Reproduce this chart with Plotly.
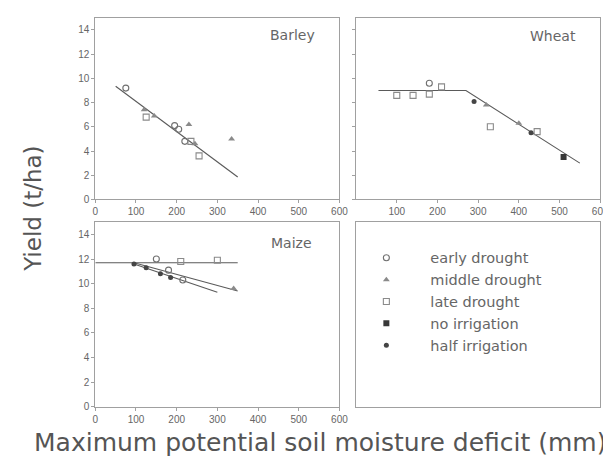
import plotly.graph_objects as go

# ---------------- data ----------------
treatments = ["early drought", "middle drought", "late drought", "no irrigation", "half irrigation"]

# Barley
barley_early_x = [75, 195, 205, 220]
barley_early_y = [9.2, 6.1, 5.8, 4.8]
barley_middle_x = [120, 145, 230, 245, 335]
barley_middle_y = [7.4, 6.9, 6.2, 4.6, 5.0]
barley_late_x = [125, 235, 255]
barley_late_y = [6.8, 4.8, 3.6]
barley_fit_x = [50, 350]
barley_fit_y = [9.35, 1.85]

# Wheat
wheat_early_x = [180]
wheat_early_y = [9.6]
wheat_middle_x = [320, 400]
wheat_middle_y = [7.8, 6.3]
wheat_late_x = [100, 140, 180, 210, 330, 445]
wheat_late_y = [8.6, 8.6, 8.7, 9.3, 6.0, 5.6]
wheat_none_x = [510]
wheat_none_y = [3.5]
wheat_half_x = [290, 430]
wheat_half_y = [8.1, 5.5]
wheat_fit_x = [55, 270, 550]
wheat_fit_y = [9.0, 9.0, 3.0]

# Maize
maize_early_x = [150, 180, 215]
maize_early_y = [12.0, 11.1, 10.3]
maize_middle_x = [340]
maize_middle_y = [9.6]
maize_late_x = [210, 300]
maize_late_y = [11.8, 11.9]
maize_half_x = [95, 125, 160, 185]
maize_half_y = [11.6, 11.3, 10.8, 10.5]
maize_flat_x = [0, 350]
maize_flat_y = [11.7, 11.7]
maize_fit1_x = [95, 350]
maize_fit1_y = [11.7, 9.4]
maize_fit2_x = [95, 300]
maize_fit2_y = [11.6, 9.3]

x_ticks = [0, 100, 200, 300, 400, 500, 600]
y_ticks = [0, 2, 4, 6, 8, 10, 12, 14]

# ---------------- style ----------------
W, H = 611, 457
MC = "#707070"
LC = "#5a5a5a"
AX = "#a0a0a0"
TXT = "#666666"
FONT = "Liberation Sans, Arial, sans-serif"
WFONT = "DejaVu Sans, sans-serif"

sym = {
    "early drought": dict(symbol="circle-open", size=6, color=MC, line=dict(width=1.1, color=MC)),
    "middle drought": dict(symbol="triangle-up", size=6, color="#8a8a8a"),
    "late drought": dict(symbol="square-open", size=6, color="#8a8a8a", line=dict(width=1.1, color="#8a8a8a")),
    "no irrigation": dict(symbol="square", size=6, color="#383838"),
    "half irrigation": dict(symbol="circle", size=5, color="#454545"),
}

fig = go.Figure()
shown = set()


def pts(x, y, tr, xa, ya):
    show = tr not in shown
    shown.add(tr)
    fig.add_trace(go.Scatter(
        x=x, y=y, mode="markers", name=tr, legendgroup=tr, showlegend=show,
        legendrank=treatments.index(tr) + 1,
        marker=sym[tr], xaxis=xa, yaxis=ya))


def line(x, y, xa, ya):
    fig.add_trace(go.Scatter(x=x, y=y, mode="lines", showlegend=False,
                             line=dict(color=LC, width=1.1), xaxis=xa, yaxis=ya,
                             hoverinfo="skip"))

# Barley (x, y)
line(barley_fit_x, barley_fit_y, "x", "y")
pts(barley_early_x, barley_early_y, "early drought", "x", "y")
pts(barley_middle_x, barley_middle_y, "middle drought", "x", "y")
pts(barley_late_x, barley_late_y, "late drought", "x", "y")

# Wheat (x2, y2)
line(wheat_fit_x, wheat_fit_y, "x2", "y2")
pts(wheat_early_x, wheat_early_y, "early drought", "x2", "y2")
pts(wheat_middle_x, wheat_middle_y, "middle drought", "x2", "y2")
pts(wheat_late_x, wheat_late_y, "late drought", "x2", "y2")
pts(wheat_none_x, wheat_none_y, "no irrigation", "x2", "y2")
pts(wheat_half_x, wheat_half_y, "half irrigation", "x2", "y2")

# Maize (x3, y3)
line(maize_flat_x, maize_flat_y, "x3", "y3")
line(maize_fit1_x, maize_fit1_y, "x3", "y3")
line(maize_fit2_x, maize_fit2_y, "x3", "y3")
pts(maize_early_x, maize_early_y, "early drought", "x3", "y3")
pts(maize_middle_x, maize_middle_y, "middle drought", "x3", "y3")
pts(maize_late_x, maize_late_y, "late drought", "x3", "y3")
pts(maize_half_x, maize_half_y, "half irrigation", "x3", "y3")

# empty 4th panel (legend box)
fig.add_trace(go.Scatter(x=[None], y=[None], mode="markers", showlegend=False,
                         xaxis="x4", yaxis="y4", hoverinfo="skip"))


def px(v):
    return v / W


def py(v):
    return 1 - v / H


left_dom = [px(86), px(335)]
right_dom = [px(352), px(601)]
top_dom = [py(194), py(10)]
bot_dom = [py(404), py(217)]

common = dict(showline=True, mirror=True, linecolor=AX, linewidth=1,
              showgrid=False, zeroline=False, ticks="outside", ticklen=3,
              tickcolor=AX, tickfont=dict(size=10, color=TXT, family=FONT))
plain = {k: v for k, v in common.items() if k != "ticks"}

fig.update_layout(
    width=W, height=H,
    margin=dict(l=0, r=0, t=0, b=0),
    paper_bgcolor="white", plot_bgcolor="white",
    font=dict(family=FONT, color=TXT),
    xaxis=dict(domain=left_dom, range=[0, 600], tickvals=x_ticks, anchor="y", **common),
    yaxis=dict(domain=top_dom, range=[0, 15], tickvals=y_ticks, anchor="x", **common),
    xaxis2=dict(domain=right_dom, range=[0, 600], tickvals=x_ticks[1:], anchor="y2", **common),
    yaxis2=dict(domain=top_dom, range=[0, 15], tickvals=y_ticks, showticklabels=False, anchor="x2", **common),
    xaxis3=dict(domain=left_dom, range=[0, 600], tickvals=x_ticks, anchor="y3", **common),
    yaxis3=dict(domain=bot_dom, range=[0, 15], tickvals=y_ticks, anchor="x3", **common),
    xaxis4=dict(domain=right_dom, range=[0, 1], showticklabels=False, anchor="y4", ticks="", **plain),
    yaxis4=dict(domain=bot_dom, range=[0, 1], showticklabels=False, anchor="x4", ticks="", **plain),
    legend=dict(x=px(338), y=py(237), xanchor="left", yanchor="top",
                bgcolor="rgba(0,0,0,0)", font=dict(size=14.5, color=TXT, family=WFONT),
                itemwidth=78, tracegroupgap=0),
    showlegend=True,
)

annos = [
    dict(text="Barley", x=px(312), y=py(27), xanchor="right"),
    dict(text="Wheat", x=px(578), y=py(28), xanchor="right"),
    dict(text="Maize", x=px(309), y=py(238), xanchor="right"),
]
for a in annos:
    fig.add_annotation(xref="paper", yref="paper", yanchor="middle", showarrow=False,
                       font=dict(size=14, color=TXT, family=WFONT), **a)

fig.add_annotation(xref="paper", yref="paper", x=px(23), y=py(204), text="Yield (t/ha)",
                   textangle=-90, showarrow=False, xanchor="center", yanchor="middle",
                   font=dict(size=23, color="#555555", family=WFONT))
fig.add_annotation(xref="paper", yref="paper", x=px(315), y=py(440),
                   text="Maximum potential soil moisture deficit (mm)",
                   showarrow=False, xanchor="center", yanchor="middle",
                   font=dict(size=25, color="#555555", family=WFONT))

fig.write_html("out.html")
